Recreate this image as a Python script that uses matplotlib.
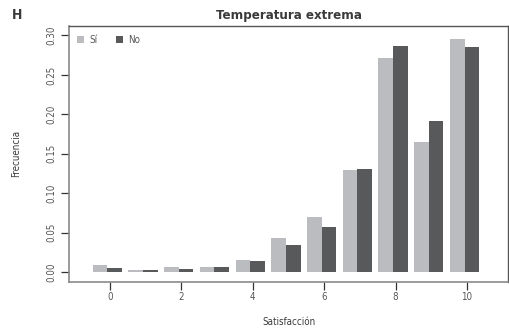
import matplotlib
matplotlib.use("Agg")
import matplotlib.pyplot as plt
import numpy as np

plt.rcParams['font.family'] = ['DejaVu Sans']
plt.rcParams['font.stretch'] = 'condensed'

satisfaccion = [0, 1, 2, 3, 4, 5, 6, 7, 8, 9, 10]
si_vals = [0.009, 0.0025, 0.006, 0.006, 0.015, 0.044, 0.070, 0.130, 0.272, 0.165, 0.296]
no_vals = [0.005, 0.0025, 0.004, 0.006, 0.014, 0.035, 0.057, 0.131, 0.287, 0.191, 0.285]
xticks = [0, 2, 4, 6, 8, 10]
yticks = [0.00, 0.05, 0.10, 0.15, 0.20, 0.25, 0.30]
series_labels = ['Sí', 'No']
title = 'Temperatura extrema'
panel = 'H'

c_si = '#bbbcc0'
c_no = '#58595b'
txt = '#3a3a3a'

fig = plt.figure(figsize=(5.09, 3.32), dpi=100)
ax = fig.add_axes([0.1365, 0.1515, 0.861, 0.7702])

x = np.array(satisfaccion, dtype=float)
w = 0.41
off = -0.07
ax.bar(x + off - w / 2, si_vals, width=w, color=c_si, label=series_labels[0], linewidth=0)
ax.bar(x + off + w / 2, no_vals, width=w, color=c_no, label=series_labels[1], linewidth=0)

ax.set_xlim(-1.13, 11.14)
ax.set_ylim(-0.012, 0.312)
ax.set_xticks(xticks)
ax.set_xticklabels([str(t) for t in xticks])
ax.set_yticks(yticks)
ax.set_yticklabels([f"{t:.2f}" for t in yticks], rotation=90, va='center')

ax.tick_params(axis='both', length=5.5, width=0.9, color='#333333', labelsize=7, labelcolor='#555555')
ax.tick_params(axis='x', pad=2)
ax.tick_params(axis='y', pad=4)

for s in ['left', 'bottom']:
    ax.spines[s].set_color('#8a8a8a')
    ax.spines[s].set_linewidth(1.2)
for s in ['top', 'right']:
    ax.spines[s].set_color('#555555')
    ax.spines[s].set_linewidth(1.0)

ax.set_title(title, fontsize=9.5, fontweight='bold', color=txt, pad=5)
ax.set_xlabel('Satisfacción', fontsize=7, color=txt, labelpad=11)
ax.set_ylabel('Frecuencia', fontsize=7, color=txt, labelpad=18)

fig.text(0.024, 0.955, panel, fontsize=10, fontweight='bold', color=txt, va='center', ha='left')

leg = ax.legend(loc='upper left', bbox_to_anchor=(0.0164, 0.965), ncol=2, frameon=False,
                fontsize=7, handlelength=0.78, handleheight=0.78, handletextpad=0.5,
                columnspacing=1.9, borderpad=0, borderaxespad=0)
for t in leg.get_texts():
    t.set_color('#555555')

fig.savefig('out.png', dpi=100)
